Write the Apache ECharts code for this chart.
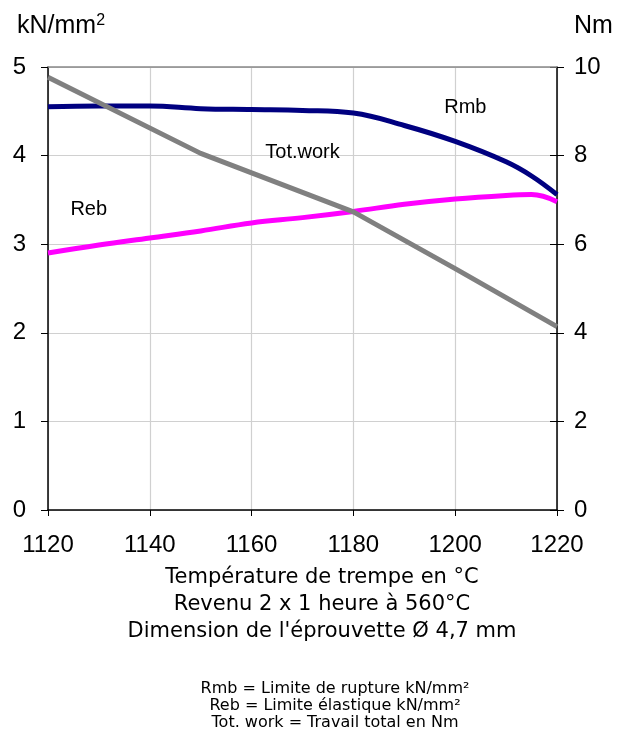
<!DOCTYPE html>
<html><head><meta charset="utf-8">
<script src="https://cdn.jsdelivr.net/npm/echarts@6/dist/echarts.min.js"></script>
<style>html,body{margin:0;padding:0;background:#fff}#c{width:620px;height:733px}</style>
</head><body><div id="c"></div>
<script>
const temps = [1120,1130,1140,1150,1160,1170,1180,1190,1200,1210,1215,1220];
const rmb   = [4.55,4.56,4.56,4.53,4.52,4.51,4.48,4.34,4.16,3.93,3.77,3.56];
const reb   = [2.90,2.99,3.07,3.15,3.24,3.30,3.37,3.45,3.51,3.55,3.56,3.48];
const workT = [1120,1150,1180,1200,1220];
const work  = [9.77,8.05,6.73,5.45,4.14];
const xTicks = [1120,1140,1160,1180,1200,1220];
const seriesLabels = ['Rmb','Reb','Tot.work'];
const labelPos = [[1202,4.54],[1128,3.39],[1170,4.03]];
const xTitle = ['Température de trempe en °C','Revenu 2 x 1 heure à 560°C',"Dimension de l'éprouvette Ø 4,7 mm"];
const notes = ['Rmb = Limite de rupture kN/mm²','Reb = Limite élastique kN/mm²','Tot. work = Travail total en Nm'];

const chart = echarts.init(document.getElementById('c'));
const pair = (xs, ys) => xs.map((x,i)=>[x, ys[i]]);
const F = 'Liberation Sans, Arial, sans-serif';
const lbl = (i) => ({symbol:'rect',symbolSize:1,itemStyle:{color:'rgba(0,0,0,0)'},
  data:[{coord:labelPos[i],label:{show:true,position:'inside',formatter:seriesLabels[i],color:'#000',fontSize:20,fontFamily:F}}]});
chart.setOption({
  animation:false,
  grid:{left:48,right:63,top:67,bottom:223},
  xAxis:{type:'value',min:1120,max:1220,interval:20,
    axisLine:{lineStyle:{color:'#000',width:1.5}},
    axisTick:{show:true,length:6,lineStyle:{color:'#000'}},
    axisLabel:{color:'#000',fontSize:24,fontFamily:F,margin:23,formatter:v=>String(v)},
    splitLine:{show:true,lineStyle:{color:'#d0d0d0',width:1.2}}},
  yAxis:[
    {type:'value',min:0,max:5,interval:1,name:'{a|kN/mm}{s|2}',nameGap:28,
     nameTextStyle:{color:'#000',fontFamily:F,align:'left',padding:[0,0,0,-31],
       rich:{a:{fontSize:25,fontFamily:F,color:'#000'},s:{fontSize:16,fontFamily:F,color:'#000',verticalAlign:'top',padding:[0,0,10,0]}}},
     axisLine:{show:true,lineStyle:{color:'#000',width:1.5}},
     axisTick:{show:true,length:7,lineStyle:{color:'#000'}},
     axisLabel:{color:'#000',fontSize:24,fontFamily:F,margin:22},
     splitLine:{show:true,lineStyle:{color:'#d0d0d0',width:1.2}}},
    {type:'value',min:0,max:10,interval:2,name:'Nm',nameGap:28,position:'right',
     nameTextStyle:{color:'#000',fontSize:25,fontFamily:F,align:'left',padding:[0,0,0,17]},
     axisLine:{show:true,lineStyle:{color:'#000',width:1.5}},
     axisTick:{show:true,length:7,lineStyle:{color:'#000'}},
     axisLabel:{color:'#000',fontSize:24,fontFamily:F,margin:17},
     splitLine:{show:false}},
    {type:'value',min:0,max:10,interval:2,position:'right',
     axisLine:{show:false},
     axisTick:{show:true,inside:true,length:7,lineStyle:{color:'#000'}},
     axisLabel:{show:false},splitLine:{show:false}}
  ],
  graphic:[
    {type:'line',shape:{x1:48,y1:67,x2:557,y2:67},style:{stroke:'#888',lineWidth:1.5},z:1},
    {type:'text',x:322,y:564,style:{text:xTitle.join('\n'),font:'21px "DejaVu Sans", sans-serif',fill:'#000',align:'center',textAlign:'center',lineHeight:27}},
    {type:'text',x:335,y:680,style:{text:notes.join('\n'),font:'16px "DejaVu Sans", sans-serif',fill:'#000',align:'center',textAlign:'center',lineHeight:17}}
  ],
  series:[
    {name:seriesLabels[0],type:'line',yAxisIndex:0,data:pair(temps,rmb),smooth:0.4,showSymbol:false,
     lineStyle:{color:'#000080',width:5},markPoint:lbl(0)},
    {name:seriesLabels[1],type:'line',yAxisIndex:0,data:pair(temps,reb),smooth:0.4,showSymbol:false,
     lineStyle:{color:'#FF00FF',width:5},markPoint:lbl(1)},
    {name:seriesLabels[2],type:'line',yAxisIndex:1,data:pair(workT,work),smooth:false,showSymbol:false,
     lineStyle:{color:'#808080',width:5},
     markPoint:{symbol:'rect',symbolSize:1,itemStyle:{color:'rgba(0,0,0,0)'},
       data:[{xAxis:labelPos[2][0],yAxis:labelPos[2][1]*2,label:{show:true,position:'inside',formatter:seriesLabels[2],color:'#000',fontSize:20,fontFamily:F}}]}}
  ]
});
</script></body></html>
